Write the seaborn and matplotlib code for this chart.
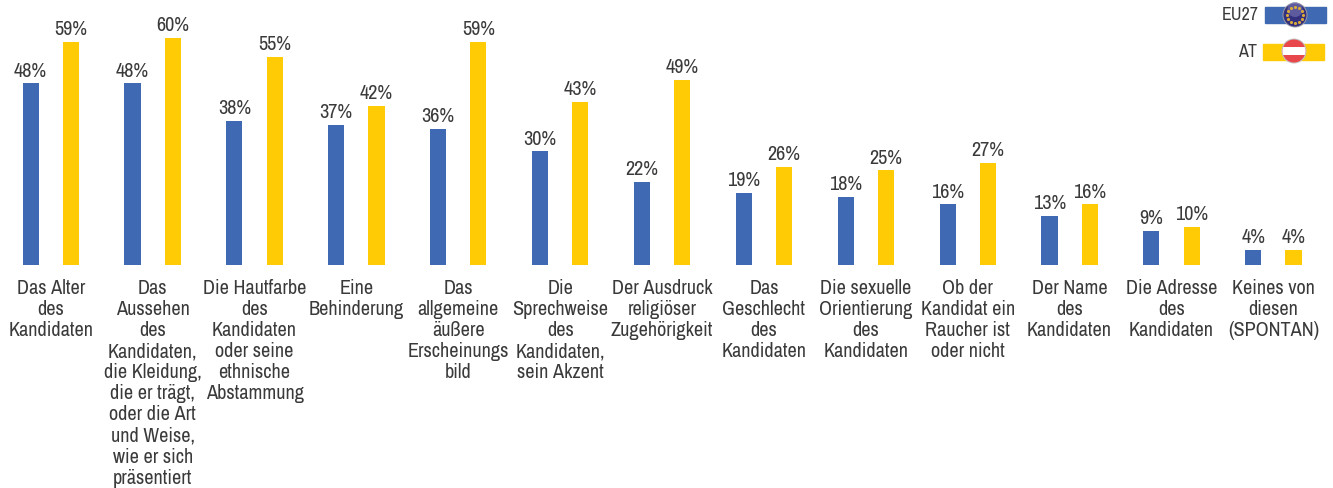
import numpy as np
import pandas as pd
import matplotlib
matplotlib.use("Agg")
import matplotlib.pyplot as plt
from matplotlib.patches import Circle, Rectangle
import seaborn as sns

categories = [
    "Das Alter\ndes\nKandidaten",
    "Das\nAussehen\ndes\nKandidaten,\ndie Kleidung,\ndie er trägt,\noder die Art\nund Weise,\nwie er sich\npräsentiert",
    "Die Hautfarbe\ndes\nKandidaten\noder seine\nethnische\nAbstammung",
    "Eine\nBehinderung",
    "Das\nallgemeine\näußere\nErscheinungs\nbild",
    "Die\nSprechweise\ndes\nKandidaten,\nsein Akzent",
    "Der Ausdruck\nreligiöser\nZugehörigkeit",
    "Das\nGeschlecht\ndes\nKandidaten",
    "Die sexuelle\nOrientierung\ndes\nKandidaten",
    "Ob der\nKandidat ein\nRaucher ist\noder nicht",
    "Der Name\ndes\nKandidaten",
    "Die Adresse\ndes\nKandidaten",
    "Keines von\ndiesen\n(SPONTAN)",
]
eu27 = [48, 48, 38, 37, 36, 30, 22, 19, 18, 16, 13, 9, 4]
at = [59, 60, 55, 42, 59, 43, 49, 26, 25, 27, 16, 10, 4]

BLUE = "#3f69b2"
YELLOW = "#ffcb05"
TEXT = "#3a3a3a"

plt.rcParams["font.family"] = ["Archivo Narrow", "Roboto", "DejaVu Sans"]

df = pd.DataFrame({
    "category": categories * 2,
    "group": ["EU27"] * len(eu27) + ["AT"] * len(at),
    "value": eu27 + at,
})

W, H = 1333, 488
fig = plt.figure(figsize=(W / 100, H / 100), dpi=100)
ax = fig.add_axes([0, (H - 265) / H, 1, 265 / H])

sns.barplot(data=df, x="category", y="value", hue="group", hue_order=["EU27", "AT"],
            palette={"EU27": BLUE, "AT": YELLOW}, width=0.79, gap=0.6,
            saturation=1, legend=False, ax=ax)

ax.set_xlim(-0.498, 12.585)
ax.set_ylim(0, 70)
ax.set_xlabel("")
ax.set_ylabel("")
ax.set_yticks([])
sns.despine(ax=ax, left=True, bottom=True)
ax.tick_params(axis="x", length=0, pad=10, labelsize=14.6, labelcolor=TEXT)
for lab in ax.get_xticklabels():
    lab.set_linespacing(1.14)

for cont in ax.containers:
    ax.bar_label(cont, fmt="%d%%", padding=2, fontsize=14.6, color=TEXT)

# legend drawn in pixel coordinates
leg = fig.add_axes([0, 0, 1, 1], zorder=5)
leg.set_xlim(0, W)
leg.set_ylim(H, 0)
leg.axis("off")

leg.add_patch(Rectangle((1265, 7), 61, 16, color=BLUE))
leg.add_patch(Rectangle((1263, 44), 61, 16, color=YELLOW))
leg.text(1259, 15, "EU27", ha="right", va="center", fontsize=13, color=TEXT)
leg.text(1257, 52, "AT", ha="right", va="center", fontsize=13, color=TEXT)

# EU badge
leg.add_patch(Circle((1295, 15), 12.5, fc="#9a9aa6", ec="none"))
leg.add_patch(Circle((1295, 15), 11.5, fc="#33307e", ec="none"))
leg.add_patch(Circle((1295, 9.5), 7.5, fc="#7a78b4", ec="none", alpha=0.6))
angles = np.deg2rad(np.arange(0, 360, 30))
leg.scatter(1295 + 8.3 * np.cos(angles), 15 + 8.3 * np.sin(angles), s=5, marker="o",
            color="#d9a93a", linewidths=0, zorder=6)

# AT badge
leg.add_patch(Circle((1294, 51), 12.5, fc="#c4c4c4", ec="none"))
red = Circle((1294, 51), 11.5, fc="#e8484c", ec="none")
leg.add_patch(red)
white = Rectangle((1280, 47), 28, 8, fc="white", ec="none")
leg.add_patch(white)
white.set_clip_path(red)

fig.savefig("out.png", dpi=100)
